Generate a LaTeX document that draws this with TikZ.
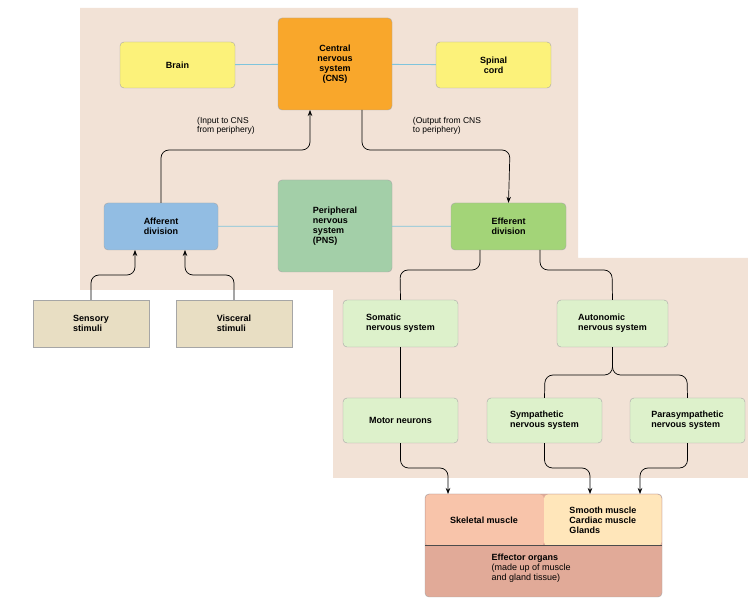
\documentclass[tikz,border=0pt]{standalone}
\usepackage{fontspec}
\setmainfont{Liberation Sans}
\usetikzlibrary{arrows.meta}
\definecolor{bgpeach}{HTML}{F2E2D6}
\definecolor{cnsorange}{HTML}{F9A72B}
\definecolor{brainyellow}{HTML}{FCF27A}
\definecolor{affblue}{HTML}{92BDE3}
\definecolor{pnsgreen}{HTML}{A3CFA8}
\definecolor{effgreen}{HTML}{A3D478}
\definecolor{stimtan}{HTML}{E8DEC3}
\definecolor{subgreen}{HTML}{DDF1CB}
\definecolor{skelsalmon}{HTML}{F8C4AA}
\definecolor{smoothcream}{HTML}{FFE6BA}
\definecolor{effectrose}{HTML}{E1AA98}
\definecolor{linkblue}{HTML}{7FC4DC}
\tikzset{
  box/.style={draw=gray!70,rounded corners=4pt,align=left,font=\fontsize{9}{10}\selectfont\bfseries,inner sep=0pt},
  flat/.style={draw=gray!70,align=left,font=\fontsize{9}{10}\selectfont\bfseries,inner sep=0pt},
  link/.style={linkblue,line width=0.8pt},
  flow/.style={black,line width=0.7pt,rounded corners=8pt},
  note/.style={align=left,font=\fontsize{8.5}{9.5}\selectfont}
}
\begin{document}
\begin{tikzpicture}[x=1pt,y=-1pt]
	\useasboundingbox (0,0) rectangle (748,601);
	\fill[bgpeach] (80,8) -- (578,8) -- (578,258) -- (748,258) -- (748,478) -- (333,478) -- (333,290) -- (80,290) -- cycle;
	
	\node[box,fill=brainyellow,minimum width=115,minimum height=46] (brain) at (177.5,65) {Brain};
	\node[box,fill=cnsorange,minimum width=114,minimum height=92,align=center] (cns) at (335,64) {Central\\nervous\\system\\(CNS)};
	\node[box,fill=brainyellow,minimum width=115,minimum height=46,align=center] (spinal) at (493.5,65) {Spinal\\cord};
	\node[box,fill=affblue,minimum width=114,minimum height=47,align=center] (afferent) at (161,226.5) {Afferent\\division};
	\node[box,fill=pnsgreen,minimum width=114,minimum height=92] (pns) at (335,226) {Peripheral\\nervous\\system\\(PNS)};
	\node[box,fill=effgreen,minimum width=115,minimum height=47,align=center] (efferent) at (508.5,226.5) {Efferent\\division};
	\node[flat,fill=stimtan,minimum width=116,minimum height=47] (sensory) at (91,323.5) {Sensory\\stimuli};
	\node[flat,fill=stimtan,minimum width=116,minimum height=47] (visceral) at (234,323.5) {Visceral\\stimuli};
	\node[box,fill=subgreen,minimum width=115,minimum height=47] (somatic) at (400.5,323.5) {Somatic\\nervous system};
	\node[box,fill=subgreen,minimum width=111,minimum height=47] (autonomic) at (612.5,323.5) {Autonomic\\nervous system};
	\node[box,fill=subgreen,minimum width=115,minimum height=45] (motor) at (400.5,420.5) {Motor neurons};
	\node[box,fill=subgreen,minimum width=115,minimum height=45] (sympathetic) at (544.5,420.5) {Sympathetic\\nervous system};
	\node[box,fill=subgreen,minimum width=115,minimum height=45] (parasympathetic) at (687.5,420.5) {Parasympathetic\\nervous system};
	
	% effector organs
	\draw[gray!70,fill=effectrose,rounded corners=4pt] (425,494) rectangle (662,597);
	\fill[skelsalmon,rounded corners=4pt] (425.5,494.5) -- (544,494.5) -- (544,546) -- (425.5,546) -- cycle;
	\fill[smoothcream,rounded corners=4pt] (544,494.5) -- (661.5,494.5) -- (661.5,546) -- (544,546) -- cycle;
	\draw[black!70,line width=1pt] (425,546) -- (662,546);
	\node[font=\fontsize{9}{10}\selectfont\bfseries] (skeletal) at (484,520) {Skeletal muscle};
	\node[font=\fontsize{9}{10}\selectfont\bfseries,align=left] (smooth) at (603,520) {Smooth muscle\\Cardiac muscle\\Glands};
	\node[align=left,anchor=north west,font=\fontsize{9}{10}\selectfont] (effector) at (488,550) {\textbf{Effector organs}\\(made up of muscle\\and gland tissue)};
	\coordinate (skeltop) at (448,494);
	\coordinate (symtop) at (590,494);
	\coordinate (partop) at (640,494);
	
	\node[note] (input) at (226,126) {(Input to CNS\\from periphery)};
	\node[note] (output) at (447,126) {(Output from CNS\\to periphery)};
	
	\draw[link] (brain) -- (cns);
	\draw[link] (cns) -- (spinal);
	\draw[link] (afferent) -- (pns);
	\draw[link] (pns) -- (efferent);
	
	\draw[flow,-{Stealth[length=6pt]}] (afferent.north) |- (310,150) -- (310,110);
	\draw[flow,-{Stealth[length=6pt]}] (362,110) |- (510,150) -- (efferent.north);
	\draw[flow,-{Stealth[length=6pt]}] (sensory.north) |- (135,275) -- (135,250);
	\draw[flow,-{Stealth[length=6pt]}] (visceral.north) |- (185,275) -- (185,250);
	\draw[flow] (480,250) |- (400,270) -- (somatic.north);
	\draw[flow] (540,250) |- (612,270) -- (autonomic.north);
	\draw[flow] (somatic) -- (motor);
	\draw[flow] (autonomic.south) |- (545,375) -- (sympathetic.north);
	\draw[flow] (autonomic.south) |- (687,375) -- (parasympathetic.north);
	\draw[flow,-{Stealth[length=6pt]}] (motor.south) |- (448,468) -- (skeltop);
	\draw[flow,-{Stealth[length=6pt]}] (sympathetic.south) |- (590,468) -- (symtop);
	\draw[flow,-{Stealth[length=6pt]}] (parasympathetic.south) |- (640,468) -- (partop);
\end{tikzpicture}
\end{document}
